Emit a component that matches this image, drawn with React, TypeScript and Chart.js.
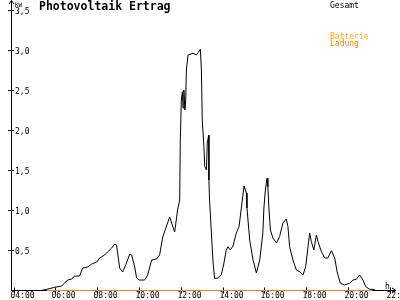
import React, { useEffect, useRef } from "react";
import { Chart, registerables } from "chart.js";

Chart.register(...registerables);

// ---- data (hours of day, kW) ----
const gesamtHours = [
  4.0, 5.3, 5.56, 5.94, 6.27, 6.42, 6.56, 6.75, 6.9, 7.13, 7.28, 7.52, 7.71, 7.95, 8.09, 8.33, 8.47, 8.67,
  8.81, 8.9, 9.05, 9.19, 9.34, 9.53, 9.62, 9.77, 9.86, 10.0, 10.24, 10.39, 10.58, 10.82, 10.96, 11.11,
  11.44, 11.68, 11.82, 11.92, 11.95, 12.0, 12.05, 12.08, 12.12, 12.17, 12.21, 12.24, 12.32, 12.56, 12.72,
  12.79, 12.91, 12.96, 13.0, 13.08, 13.12, 13.2, 13.24, 13.31, 13.32, 13.35, 13.51, 13.59, 13.75, 13.91,
  14.02, 14.15, 14.23, 14.34, 14.47, 14.63, 14.76, 14.87, 15.0, 15.11, 15.14, 15.27, 15.43, 15.59, 15.75,
  15.9, 15.95, 16.02, 16.1, 16.14, 16.19, 16.26, 16.38, 16.55, 16.7, 16.86, 17.02, 17.1, 17.18, 17.34,
  17.5, 17.66, 17.82, 17.95, 18.06, 18.14, 18.22, 18.34, 18.46, 18.54, 18.7, 18.86, 19.01, 19.18, 19.34,
  19.45, 19.61, 19.81, 20.05, 20.21, 20.37, 20.53, 20.69, 20.82, 21.01, 21.17, 21.3, 22.27,
];
const gesamtKw = [
  0, 0, 0.015, 0.04, 0.056, 0.094, 0.131, 0.144, 0.181, 0.181, 0.281, 0.294, 0.331, 0.356, 0.406, 0.444,
  0.481, 0.531, 0.581, 0.569, 0.281, 0.231, 0.319, 0.456, 0.444, 0.294, 0.156, 0.131, 0.131, 0.194, 0.381,
  0.394, 0.444, 0.669, 0.919, 0.731, 1.006, 1.131, 1.881, 2.381, 2.485, 2.281, 2.506, 2.256, 2.381, 2.756,
  2.944, 2.965, 2.944, 2.969, 3.015, 2.756, 2.131, 1.798, 1.548, 1.506, 1.844, 1.944, 1.381, 1.131, 0.381,
  0.153, 0.153, 0.194, 0.319, 0.506, 0.548, 0.506, 0.556, 0.719, 0.798, 1.031, 1.306, 1.219, 1.031, 0.631,
  0.381, 0.219, 0.381, 0.719, 1.031, 1.256, 1.403, 1.298, 1.031, 0.756, 0.656, 0.594, 0.673, 0.844, 0.894,
  0.798, 0.548, 0.381, 0.256, 0.235, 0.194, 0.298, 0.548, 0.719, 0.61, 0.506, 0.694, 0.61, 0.485, 0.406,
  0.406, 0.498, 0.406, 0.235, 0.09, 0.069, 0.09, 0.131, 0.14, 0.194, 0.131, 0.048, 0.015, 0.015, 0, 0,
];
const ladungHours = [5.56, 21.15];
const ladungKw = [0, 0];

const xTickHours = [4, 6, 8, 10, 12, 14, 16, 18, 20, 22];
const xTickLabels = ["04:00", "06:00", "08:00", "10:00", "12:00", "14:00", "16:00", "18:00", "20:00", "22:00"];
const yTickValues = [0.5, 1.0, 1.5, 2.0, 2.5, 3.0, 3.5];
const yTickLabels = ["0,5", "1,0", "1,5", "2,0", "2,5", "3,0", "3,5"];

const titleText = "Photovoltaik Ertrag";
const yUnit = "KW";
const xUnit = "h";
const legendLabels = ["Gesamt", "Batterie", "Ladung"];
const legendColors = ["#000000", "#ffaa00", "#ff8000"];

const MONO = '"DejaVu Sans Mono", "Liberation Mono", monospace';

const axesPlugin = {
  id: "pvAxes",
  beforeDatasetsDraw(chart: any) {
    const ctx = chart.ctx as CanvasRenderingContext2D;
    const xs = chart.scales.x;
    const ys = chart.scales.y;
    const ax = Math.floor(xs.left) + 0.5;
    const ay = Math.floor(ys.getPixelForValue(0)) + 0.5;
    const right = Math.round(xs.right);
    ctx.save();
    ctx.strokeStyle = "#000";
    ctx.lineWidth = 1;
    ctx.beginPath();
    // y axis + arrow
    ctx.moveTo(ax, 0.5);
    ctx.lineTo(ax, ay);
    ctx.moveTo(ax - 2.5, 4);
    ctx.lineTo(ax, 0.5);
    ctx.lineTo(ax + 2.5, 4);
    // x axis + arrow
    ctx.moveTo(ax - 0.5, ay);
    ctx.lineTo(right, ay);
    ctx.moveTo(right - 4, ay - 2.5);
    ctx.lineTo(right, ay);
    ctx.lineTo(right - 4, ay + 2.5);
    // y ticks
    yTickValues.forEach((v) => {
      const py = Math.floor(ys.getPixelForValue(v)) + 0.5;
      ctx.moveTo(ax - 3.5, py);
      ctx.lineTo(ax + 2.5, py);
    });
    ctx.stroke();
    ctx.restore();
  },
  afterDatasetsDraw(chart: any) {
    const ctx = chart.ctx as CanvasRenderingContext2D;
    const xs = chart.scales.x;
    const ys = chart.scales.y;
    const ay = Math.floor(ys.getPixelForValue(0)) + 0.5;
    ctx.save();
    ctx.strokeStyle = "#000";
    ctx.lineWidth = 1;
    ctx.beginPath();
    xTickHours.forEach((h) => {
      const px = Math.floor(xs.getPixelForValue(h)) + 0.5;
      ctx.moveTo(px, ay - 3);
      ctx.lineTo(px, ay - 0.5);
      ctx.moveTo(px, ay + 0.5);
      ctx.lineTo(px, ay + 3);
    });
    ctx.stroke();
    ctx.restore();
  },
  afterDraw(chart: any) {
    const ctx = chart.ctx as CanvasRenderingContext2D;
    const xs = chart.scales.x;
    const ys = chart.scales.y;
    const ax = Math.floor(xs.left) + 0.5;
    const ay = Math.floor(ys.getPixelForValue(0)) + 0.5;
    ctx.save();
    ctx.textBaseline = "alphabetic";
    ctx.textAlign = "left";
    ctx.fillStyle = "#000";
    ctx.font = `8px ${MONO}`;
    yTickValues.forEach((v, i) => {
      const py = Math.floor(ys.getPixelForValue(v)) + 0.5;
      ctx.fillText(yTickLabels[i], ax + 3.5, py + 3);
    });
    xTickHours.forEach((h, i) => {
      const px = Math.floor(xs.getPixelForValue(h)) + 0.5;
      ctx.fillText(xTickLabels[i], px - 4, ay + 7.5);
    });
    ctx.fillText(xUnit, 385, ay - 2);
    ctx.font = `6px ${MONO}`;
    ctx.fillText(yUnit, ax + 3.5, 7);
    ctx.font = `bold 11.5px ${MONO}`;
    ctx.fillText(titleText, 39, 10);
    ctx.font = `8px ${MONO}`;
    const legendY = [7.5, 38.5, 45.5];
    legendLabels.forEach((t, i) => {
      ctx.fillStyle = legendColors[i];
      ctx.fillText(t, 330, legendY[i]);
    });
    ctx.restore();
  },
};

export default function App() {
  const ref = useRef<HTMLCanvasElement | null>(null);
  useEffect(() => {
    if (!ref.current) return;
    const chart = new Chart(ref.current, {
      type: "line",
      data: {
        datasets: [
          {
            label: legendLabels[2],
            data: ladungHours.map((h, i) => ({ x: h, y: ladungKw[i] })),
            borderColor: "#ff8000",
            borderWidth: 1,
            pointRadius: 0,
            tension: 0,
          },
          {
            label: legendLabels[0],
            data: gesamtHours.map((h, i) => ({ x: h, y: gesamtKw[i] })),
            borderColor: "#000000",
            borderWidth: 1,
            pointRadius: 0,
            tension: 0,
          },
        ],
      },
      options: {
        animation: false,
        responsive: false,
        devicePixelRatio: 1,
        layout: { padding: { left: 11, right: 4, top: 10, bottom: 9 } },
        plugins: { legend: { display: false }, tooltip: { enabled: false }, title: { display: false } },
        scales: {
          x: { type: "linear", min: 3.85, max: 22.27, display: false },
          y: { type: "linear", min: -0.00625, max: 3.50625, display: false },
        },
      },
      plugins: [axesPlugin],
    });
    return () => chart.destroy();
  }, []);
  return (
    <div style={{ position: "absolute", left: 0, top: 0, width: 400, height: 300, background: "#fff" }}>
      <canvas ref={ref} width={400} height={300} />
    </div>
  );
}
